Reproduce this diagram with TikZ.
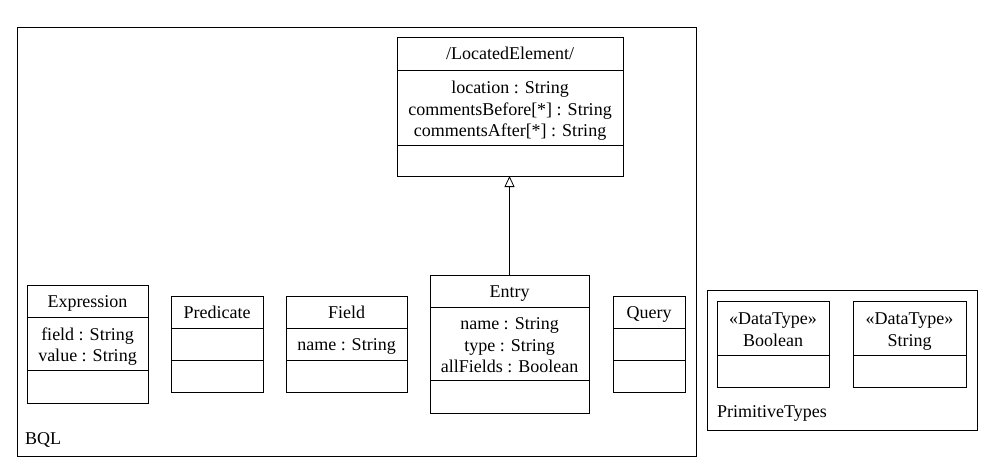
\documentclass[tikz,border=0pt]{standalone}
\usepackage{fontspec}
\setmainfont{Liberation Serif}
\usetikzlibrary{positioning,arrows.meta}
\newcommand{\classfont}{\fontsize{18}{21.5}\selectfont}
\newcommand{\attrstrut}{\rule{0pt}{19pt}}

\begin{document}
\begin{tikzpicture}[x=1pt, y=-1pt,
        cls/.style={draw, line width=0.9pt, inner sep=0pt, outer sep=0pt, align=center, font=\classfont,
            execute at begin node={\rule[-4pt]{0pt}{20pt}}},
        pkg/.style={draw, line width=0.9pt, inner sep=0pt, outer sep=0pt, anchor=north west},
        pkglabel/.style={inner sep=0pt, anchor=west, font=\classfont},
        inherit/.style={-{Triangle[open, length=11pt, width=10pt]}, line width=0.8pt}]
        \useasboundingbox (0,0) rectangle (992,472);

        % packages
        \node[pkg, minimum width=679pt, minimum height=429pt] (bql) at (17,27) {};
        \node[pkglabel] (bqlname) at (25,440) {BQL};
        \node[pkg, minimum width=270pt, minimum height=140pt] (prim) at (707,290) {};
        \node[pkglabel] (primname) at (717,413) {PrimitiveTypes};

        % LocatedElement
        \node[cls, anchor=north, minimum width=226pt, minimum height=33pt] (locTitle) at (510,37) {/LocatedElement/};
        \node[cls, below=0pt of locTitle, minimum width=226pt, minimum height=75pt] (locAttr) {\attrstrut location : String\\commentsBefore[*] : String\\commentsAfter[*] : String};
        \node[cls, below=0pt of locAttr, minimum width=226pt, minimum height=31pt] (locOps) {};

        % Expression
        \node[cls, anchor=north, minimum width=121pt, minimum height=32pt] (exprTitle) at (87.5,285) {Expression};
        \node[cls, below=0pt of exprTitle, minimum width=121pt, minimum height=53pt] (exprAttr) {\attrstrut field : String\\value : String};
        \node[cls, below=0pt of exprAttr, minimum width=121pt, minimum height=33pt] (exprOps) {};

        % Predicate
        \node[cls, anchor=north, minimum width=92pt, minimum height=32pt] (predTitle) at (217,296) {Predicate};
        \node[cls, below=0pt of predTitle, minimum width=92pt, minimum height=32pt] (predAttr) {};
        \node[cls, below=0pt of predAttr, minimum width=92pt, minimum height=32pt] (predOps) {};

        % Field
        \node[cls, anchor=north, minimum width=121pt, minimum height=32pt] (fieldTitle) at (346.5,296) {Field};
        \node[cls, below=0pt of fieldTitle, minimum width=121pt, minimum height=32pt] (fieldAttr) {name : String};
        \node[cls, below=0pt of fieldAttr, minimum width=121pt, minimum height=32pt] (fieldOps) {};

        % Entry
        \node[cls, anchor=north, minimum width=159pt, minimum height=32pt] (entryTitle) at (509.5,275) {Entry};
        \node[cls, below=0pt of entryTitle, minimum width=159pt, minimum height=73pt] (entryAttr) {\attrstrut name : String\\type : String\\allFields : Boolean};
        \node[cls, below=0pt of entryAttr, minimum width=159pt, minimum height=33pt] (entryOps) {};

        % Query
        \node[cls, anchor=north, minimum width=72pt, minimum height=32pt] (queryTitle) at (649,296) {Query};
        \node[cls, below=0pt of queryTitle, minimum width=72pt, minimum height=32pt] (queryAttr) {};
        \node[cls, below=0pt of queryAttr, minimum width=72pt, minimum height=32pt] (queryOps) {};

        % data types
        \node[cls, anchor=north, minimum width=112pt, minimum height=54pt] (boolTitle) at (773,301) {\attrstrut«DataType»\\Boolean};
        \node[cls, below=0pt of boolTitle, minimum width=112pt, minimum height=32pt] (boolOps) {};
        \node[cls, anchor=north, minimum width=113pt, minimum height=54pt] (strTitle) at (909.5,301) {\attrstrut«DataType»\\String};
        \node[cls, below=0pt of strTitle, minimum width=113pt, minimum height=32pt] (strOps) {};

        \draw[inherit] (entryTitle.north) -- (entryTitle.north |- locOps.south);
    \end{tikzpicture}
\end{document}
